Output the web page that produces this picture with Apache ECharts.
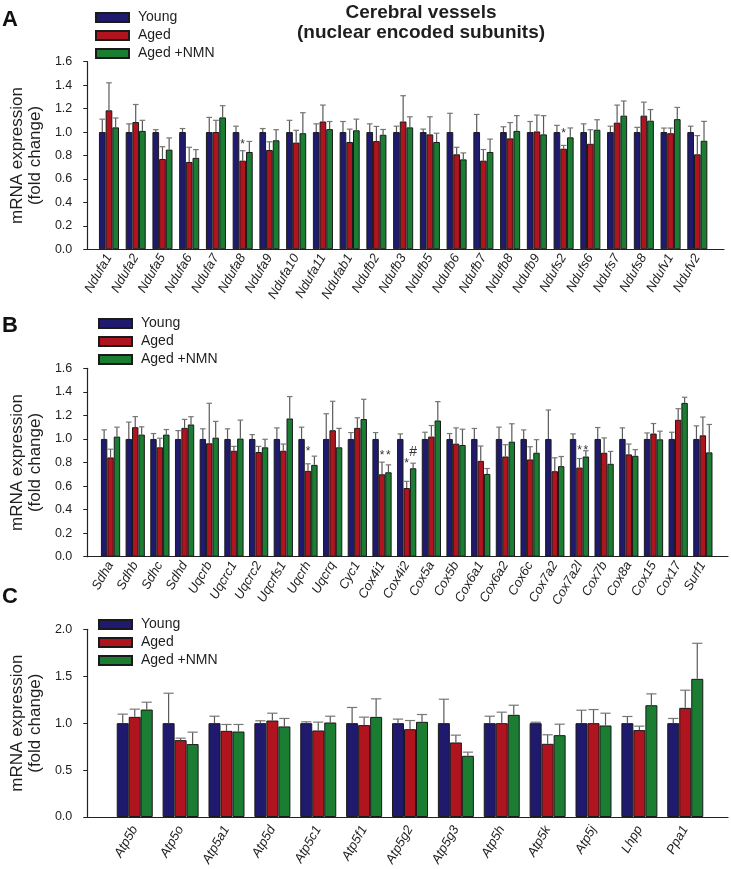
<!DOCTYPE html>
<html><head><meta charset="utf-8">
<script src="https://cdn.jsdelivr.net/npm/echarts@6/dist/echarts.min.js"></script>
<style>html,body{margin:0;padding:0;background:#fff}#c{width:731px;height:869px}</style>
</head><body><div id="c"></div>
<script>
// ---------- Panel A: complex I ----------
const catsA = ['Ndufa1','Ndufa2','Ndufa5','Ndufa6','Ndufa7','Ndufa8','Ndufa9','Ndufa10','Ndufa11','Ndufab1','Ndufb2','Ndufb3','Ndufb5','Ndufb6','Ndufb7','Ndufb8','Ndufb9','Ndufs2','Ndufs6','Ndufs7','Ndufs8','Ndufv1','Ndufv2'];
const youngA = [1,1,1,1,1,1,1,1,1,1,1,1,1,1,1,1,1,1,1,1,1,1,1];
const agedA  = [1.185,1.085,0.77,0.745,1.0,0.756,0.847,0.91,1.09,0.915,0.923,1.09,0.98,0.81,0.756,0.946,1.005,0.858,0.90,1.08,1.14,0.99,0.81];
const nmnA   = [1.04,1.01,0.85,0.78,1.125,0.83,0.93,0.99,1.025,1.015,0.977,1.04,0.915,0.767,0.83,1.01,0.98,0.955,1.02,1.14,1.097,1.11,0.926];
const semYoungA = [0.11,0.07,0.02,0.03,0.125,0.05,0.03,0.10,0.07,0.09,0.07,0.05,0.025,0.16,0.15,0.045,0.09,0.057,0.07,0.05,0.04,0.034,0.05];
const semAgedA  = [0.235,0.15,0.105,0.125,0.10,0.085,0.07,0.105,0.14,0.11,0.125,0.22,0.15,0.06,0.095,0.135,0.14,0.028,0.12,0.15,0.115,0.044,0.16];
const semNmnA   = [0.08,0.09,0.10,0.07,0.10,0.09,0.09,0.175,0.065,0.095,0.045,0.09,0.075,0.055,0.11,0.13,0.16,0.08,0.085,0.125,0.095,0.10,0.165];
const annotA = [{cat:'Ndufa8', bar:1, y:0.89, text:'*'}, {cat:'Ndufs2', bar:1, y:0.99, text:'*'}];

// ---------- Panel B: complexes II-IV ----------
const catsB = ['Sdha','Sdhb','Sdhc','Sdhd','Uqcrb','Uqcrc1','Uqcrc2','Uqcrfs1','Uqcrh','Uqcrq','Cyc1','Cox4i1','Cox4i2','Cox5a','Cox5b','Cox6a1','Cox6a2','Cox6c','Cox7a2','Cox7a2l','Cox7b','Cox8a','Cox15','Cox17','Surf1'];
const youngB = [1,1,1,1,1,1,1,1,1,1,1,1,1,1,1,1,1,1,1,1,1,1,1,1,1];
const agedB  = [0.843,1.10,0.929,1.094,0.963,0.90,0.889,0.90,0.729,1.074,1.094,0.70,0.583,1.02,0.96,0.814,0.851,0.826,0.726,0.757,0.883,0.869,1.046,1.163,1.031];
const nmnB   = [1.02,1.037,1.037,1.123,1.011,1.003,0.929,1.174,0.78,0.929,1.169,0.717,0.751,1.157,0.949,0.703,0.977,0.883,0.769,0.851,0.789,0.857,0.997,1.306,0.886];
const semYoungB = [0.077,0.143,0.046,0.071,0.086,0.086,0.037,0.094,0.10,0.214,0.054,0.054,0.043,0.057,0.046,0.089,0.10,0.077,0.246,0.043,0.097,0.094,0.051,0.057,0.111];
const semAgedB  = [0.07,0.09,0.077,0.072,0.34,0.037,0.048,0.057,0.06,0.246,0.086,0.103,0.057,0.094,0.134,0.126,0.10,0.108,0.114,0.077,0.126,0.088,0.085,0.094,0.155];
const semNmnB   = [0.08,0.066,0.043,0.066,0.138,0.157,0.068,0.186,0.074,0.161,0.168,0.063,0.043,0.16,0.134,0.046,0.152,0.111,0.082,0.049,0.105,0.052,0.069,0.048,0.237];
const annotB = [
  {cat:'Uqcrh', bar:1, y:0.89, text:'*'},
  {cat:'Cox4i1', bar:1, y:0.857, text:'*'}, {cat:'Cox4i1', bar:2, y:0.857, text:'*'},
  {cat:'Cox4i2', bar:1, y:0.79, text:'*'}, {cat:'Cox4i2', bar:2, y:0.89, text:'#'},
  {cat:'Cox7a2l', bar:1, y:0.90, text:'*'}, {cat:'Cox7a2l', bar:2, y:0.90, text:'*'}
];

// ---------- Panel C: complex V & others ----------
const catsC = ['Atp5b','Atp5o','Atp5a1','Atp5d','Atp5c1','Atp5f1','Atp5g2','Atp5g3','Atp5h','Atp5k','Atp5j','Lhpp','Ppa1'];
const youngC = [1,1,1,1,1,1,1,1,1,1,1,1,1];
const agedC  = [1.067,0.819,0.918,1.028,0.922,0.979,0.936,0.794,1.0,0.78,1.0,0.926,1.163];
const nmnC   = [1.145,0.777,0.911,0.965,1.007,1.067,1.014,0.652,1.089,0.872,0.975,1.191,1.472];
const semYoungC = [0.096,0.319,0.074,0.025,0.014,0.167,0.043,0.255,0.074,0.01,0.138,0.071,0.05];
const semAgedC  = [0.082,0.021,0.068,0.078,0.089,0.085,0.092,0.078,0.117,0.096,0.145,0.042,0.188];
const semNmnC   = [0.078,0.127,0.075,0.085,0.067,0.192,0.078,0.039,0.102,0.117,0.131,0.121,0.379];
const annotC = [];

const seriesNames = ['Young','Aged','Aged +NMN'];
const yTitle = 'mRNA expression\n(fold change)';
const mainTitle = 'Cerebral vessels\n(nuclear encoded subunits)';

// ---------- styling / layout ----------
const FONT = '"Liberation Sans", Arial, Helvetica, sans-serif';
const COLORS = ['#1f1a6d','#b0141f','#1b7d32'];
const TXT = '#1e1e1e';

const panels = [
  {letter:'A', cats:catsA, vals:[youngA,agedA,nmnA], sems:[semYoungA,semAgedA,semNmnA], annots:annotA,
   yMax:1.6, yInt:0.2, frame:{left:82, right:7, top:61.7, height:187.6}, data:{left:95.6, right:20.3},
   cg:0.25, legend:{left:95, top:9.5}, letterY:20, labelMargin:6, nameGap:38},
  {letter:'B', cats:catsB, vals:[youngB,agedB,nmnB], sems:[semYoungB,semAgedB,semNmnB], annots:annotB,
   yMax:1.6, yInt:0.2, frame:{left:83.3, right:3, top:368.3, height:188.4}, data:{left:98.2, right:15.8},
   cg:0.22, legend:{left:98, top:315.5}, letterY:326, labelMargin:6, nameGap:39},
  {letter:'C', cats:catsC, vals:[youngC,agedC,nmnC], sems:[semYoungC,semAgedC,semNmnC], annots:annotC,
   yMax:2.0, yInt:0.5, frame:{left:86.5, right:3, top:629.3, height:187.7}, data:{left:111.8, right:22.8},
   cg:0.215, legend:{left:98, top:616.5}, letterY:597, labelMargin:10, nameGap:42}
];

const grid = [], xAxis = [], yAxis = [], series = [], legend = [];
const graphic = [
  {type:'text', x:421, y:3, style:{text:mainTitle, align:'center', textAlign:'center', fontSize:19, fontWeight:'bold', fontFamily:FONT, lineHeight:20, fill:TXT}}
];

function errRender(slot, cg) {
  return function (params, api) {
    const idx = api.value(0), mean = api.value(1), sem = api.value(2);
    const bandW = api.size([1, 0])[0];
    const groupW = bandW * (1 - cg);
    const w = groupW / 3;
    const c = api.coord([idx, mean]);
    const top = api.coord([idx, mean + sem]);
    const x = c[0] - groupW / 2 + (slot + 0.5) * w;
    const cap = w * 0.85;
    const st = {stroke:'#5a5a5a', lineWidth:1.2};
    return {type:'group', children:[
      {type:'line', shape:{x1:x, y1:c[1], x2:x, y2:top[1]}, style:st},
      {type:'line', shape:{x1:x - cap/2, y1:top[1], x2:x + cap/2, y2:top[1]}, style:{stroke:'#777', lineWidth:1.2}}
    ]};
  };
}
function annRender(list, cg) {
  return function (params, api) {
    const a = list[params.dataIndex];
    const idx = api.value(0), yv = api.value(1);
    const bandW = api.size([1, 0])[0];
    const groupW = bandW * (1 - cg);
    const w = groupW / 3;
    const c = api.coord([idx, yv]);
    const x = c[0] - groupW / 2 + (a.bar + 0.5) * w;
    const fs = a.text === '#' ? 14 : 12;
    return {type:'text', x:x, y:c[1], style:{text:a.text, align:'center', verticalAlign:'middle', fontSize:fs, fontFamily:FONT, fill:'#333'}};
  };
}

panels.forEach(function (p) {
  const gf = grid.length;
  grid.push({left:p.frame.left, right:p.frame.right, top:p.frame.top, height:p.frame.height});
  const gd = grid.length;
  grid.push({left:p.data.left, right:p.data.right, top:p.frame.top, height:p.frame.height});

  xAxis.push({gridIndex:gf, type:'value', min:0, max:1, axisLine:{show:true, onZero:false, lineStyle:{color:'#222', width:1.2}},
    axisTick:{show:false}, axisLabel:{show:false}, splitLine:{show:false}});
  const xd = xAxis.length;
  xAxis.push({gridIndex:gd, type:'category', data:p.cats, axisLine:{show:false}, axisTick:{show:false},
    axisLabel:{interval:0, rotate:60, fontStyle:'italic', fontSize:13, fontFamily:FONT, color:TXT, margin:p.labelMargin}});

  yAxis.push({gridIndex:gf, type:'value', min:0, max:p.yMax, interval:p.yInt,
    axisLine:{show:true, lineStyle:{color:'#222', width:1.2}}, axisTick:{show:true, length:4, lineStyle:{color:'#222'}},
    axisLabel:{formatter:function (v) { return v.toFixed(1); }, fontSize:12.5, fontFamily:FONT, color:TXT, margin:15},
    splitLine:{show:false},
    name:yTitle, nameLocation:'middle', nameRotate:90, nameGap:p.nameGap,
    nameTextStyle:{fontSize:17, lineHeight:18, fontFamily:FONT, color:TXT}});
  const yd = yAxis.length;
  yAxis.push({gridIndex:gd, type:'value', min:0, max:p.yMax, show:false});

  for (let s = 0; s < 3; s++) {
    series.push({type:'bar', name:seriesNames[s], xAxisIndex:xd, yAxisIndex:yd, data:p.vals[s],
      barGap:'0%', barCategoryGap:(p.cg * 100) + '%', z:2,
      itemStyle:{color:COLORS[s], borderColor:'#1a1a1a', borderWidth:1}});
  }
  for (let s = 0; s < 3; s++) {
    series.push({type:'custom', name:'sem-' + s, xAxisIndex:xd, yAxisIndex:yd, z:3, silent:true,
      data:p.cats.map(function (c, i) { return [i, p.vals[s][i], p.sems[s][i]]; }),
      encode:{x:0, y:1}, renderItem:errRender(s, p.cg)});
  }
  if (p.annots.length) {
    series.push({type:'custom', name:'annot', xAxisIndex:xd, yAxisIndex:yd, z:4, silent:true,
      data:p.annots.map(function (a) { return [p.cats.indexOf(a.cat), a.y]; }),
      encode:{x:0, y:1}, renderItem:annRender(p.annots, p.cg)});
  }

  legend.push({left:p.legend.left, top:p.legend.top, padding:0, orient:'vertical', icon:'rect', itemWidth:33, itemHeight:9, itemGap:2,
    selectedMode:false, data:seriesNames, textStyle:{fontSize:14, lineHeight:16, fontFamily:FONT, color:TXT, padding:[0,0,0,4]}});

  graphic.push({type:'text', x:10, y:p.letterY, style:{text:p.letter, align:'center', verticalAlign:'middle', fontSize:22, fontWeight:'bold', fontFamily:FONT, fill:'#111'}});
});

const chart = echarts.init(document.getElementById('c'));
chart.setOption({
  animation:false,
  backgroundColor:'#fff',
  textStyle:{fontFamily:FONT},
  grid:grid, xAxis:xAxis, yAxis:yAxis, series:series, legend:legend, graphic:graphic
});
</script>
</body></html>
